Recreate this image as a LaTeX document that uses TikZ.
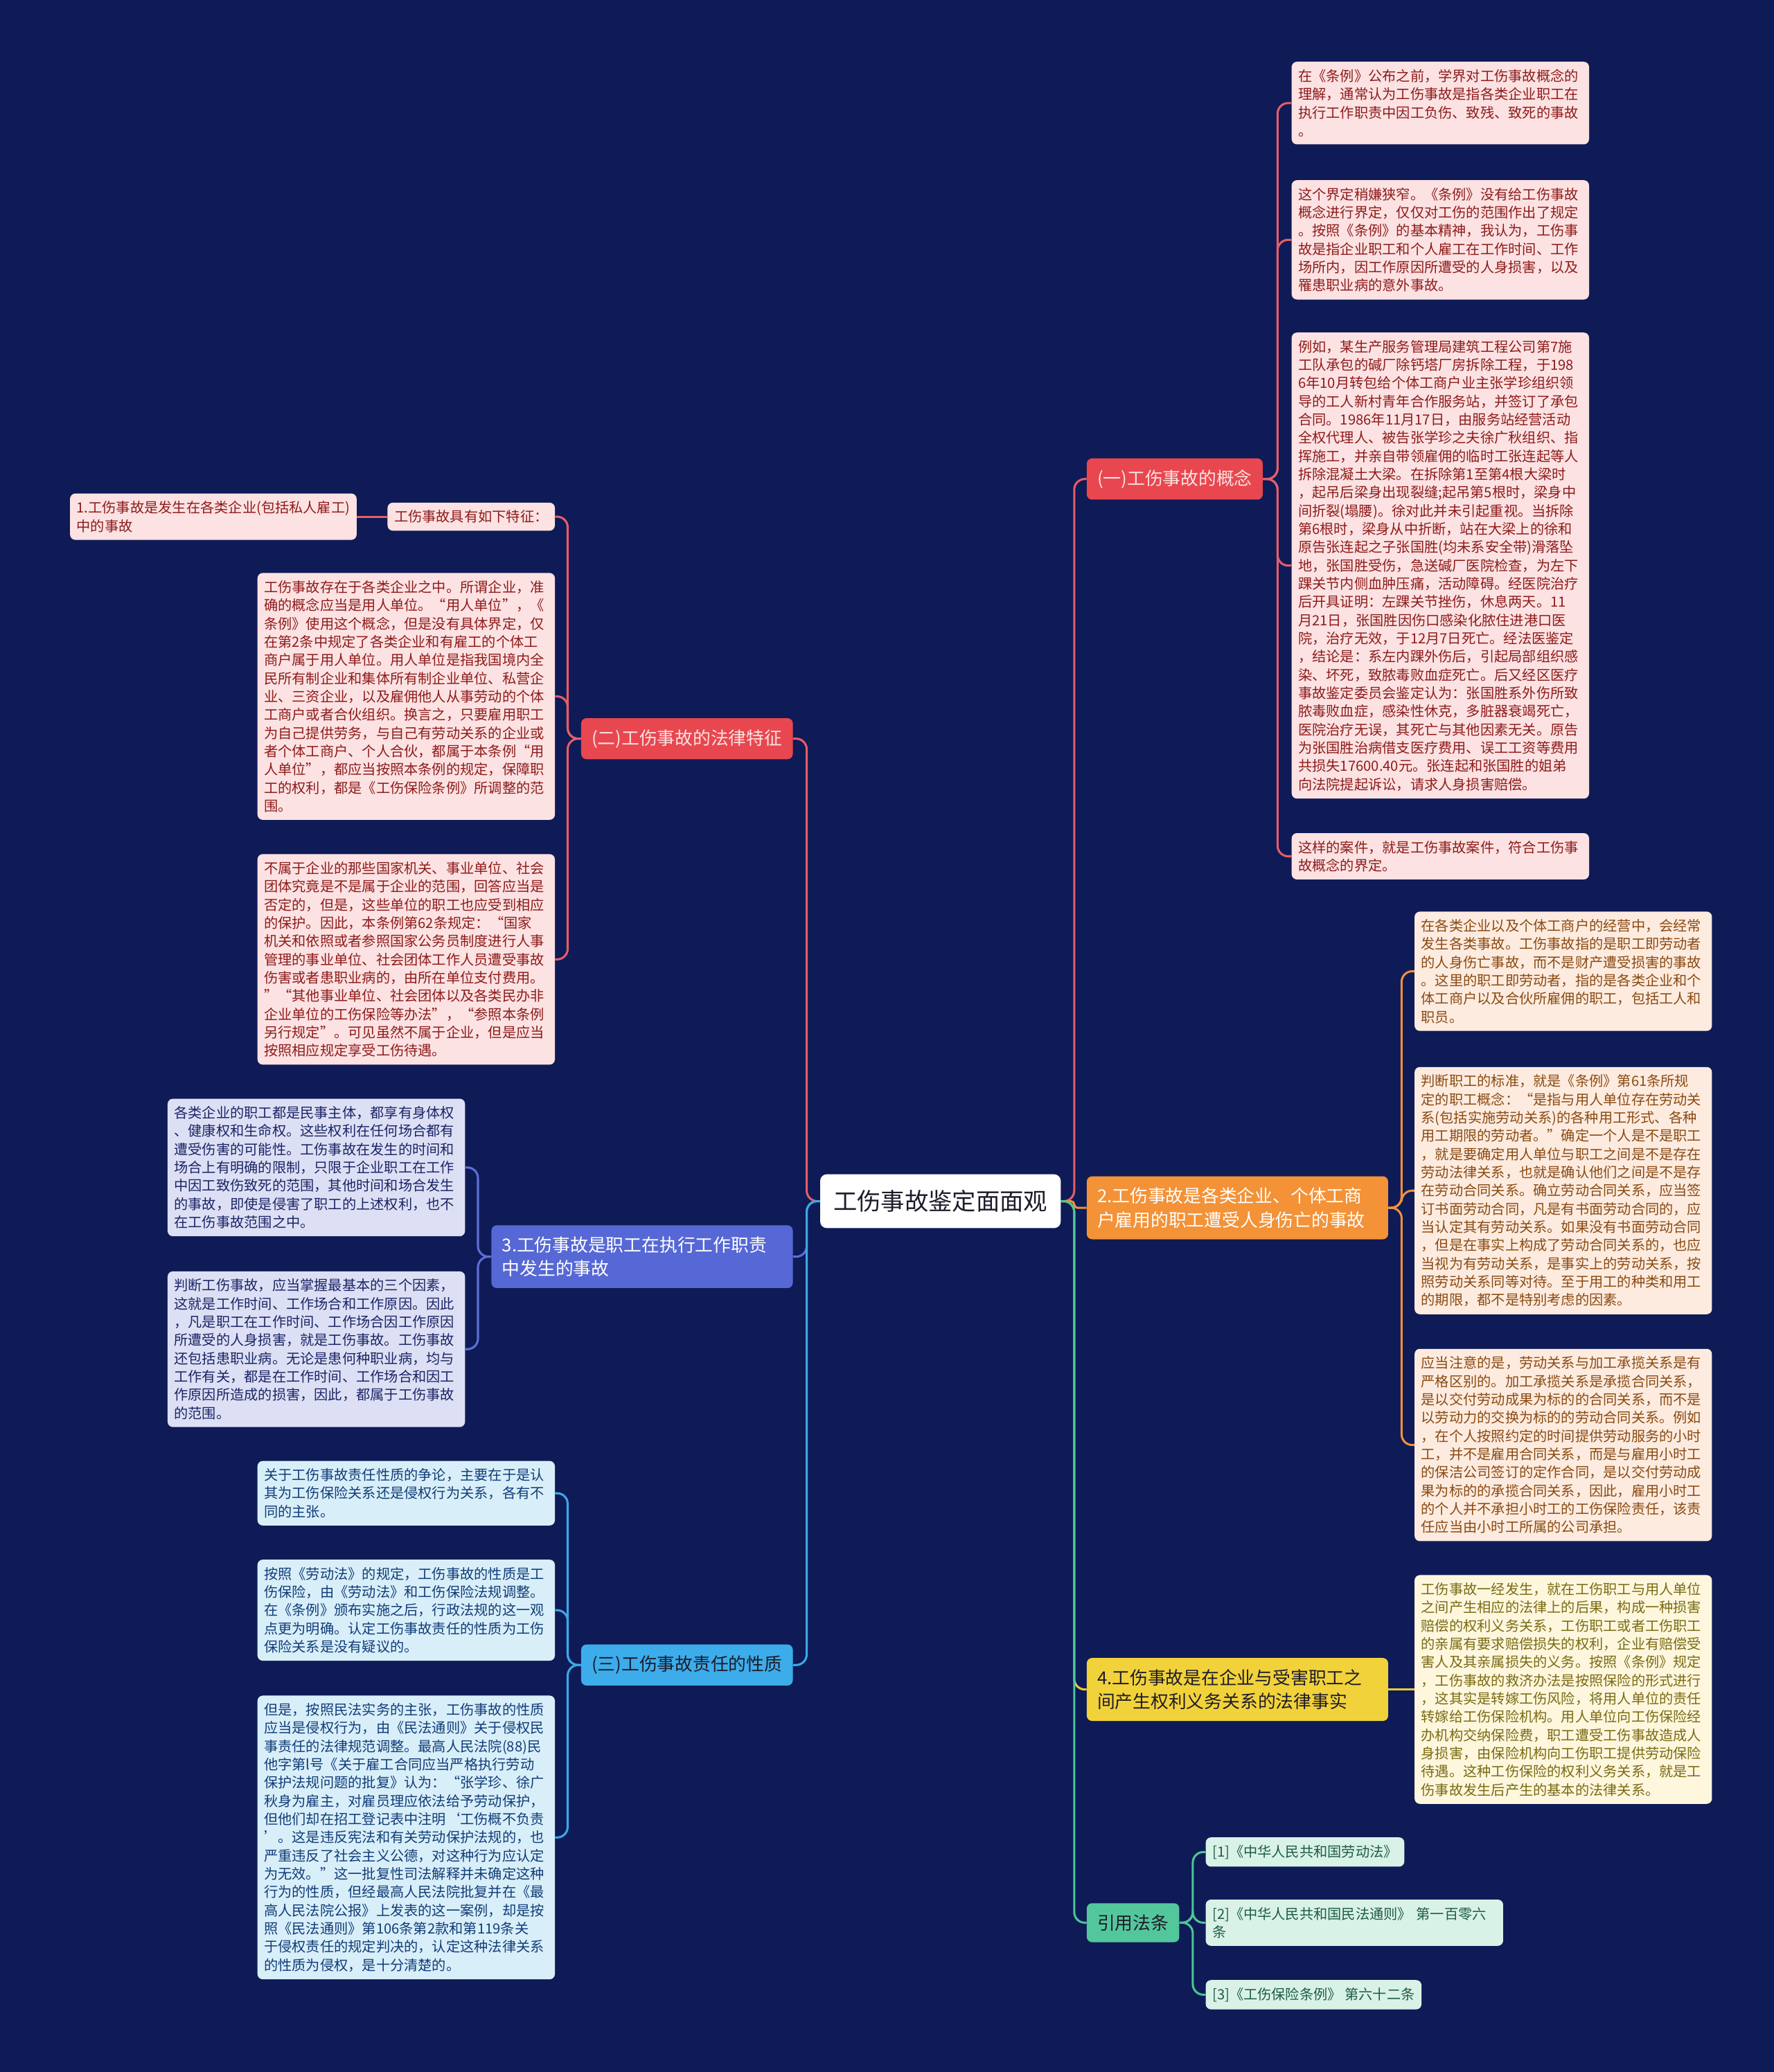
\documentclass[tikz,border=0pt]{standalone}
\usepackage{fontspec}
\setmainfont{Noto Sans CJK SC}

\definecolor{bgnavy}{HTML}{0E1B56}
\definecolor{rootink}{HTML}{1C1C2A}
\definecolor{redtopic}{HTML}{E8474F}
\definecolor{redline}{HTML}{E65D68}
\definecolor{redpale}{HTML}{FCE2E2}
\definecolor{redink}{HTML}{8E1B1B}
\definecolor{orgtopic}{HTML}{F39237}
\definecolor{orgline}{HTML}{F0913A}
\definecolor{orgpale}{HTML}{FDEBDF}
\definecolor{orgink}{HTML}{8A4A12}
\definecolor{yeltopic}{HTML}{F2D23A}
\definecolor{yelline}{HTML}{E8CB3A}
\definecolor{yelpale}{HTML}{FEF7DE}
\definecolor{yelink}{HTML}{7A6A12}
\definecolor{grntopic}{HTML}{53C79B}
\definecolor{grnline}{HTML}{4BC596}
\definecolor{grnpale}{HTML}{D9F2E7}
\definecolor{grnink}{HTML}{1E5C44}
\definecolor{blutopic}{HTML}{5668D5}
\definecolor{bluline}{HTML}{5E6FD7}
\definecolor{blupale}{HTML}{DDE0F4}
\definecolor{bluink}{HTML}{1B2466}
\definecolor{cyntopic}{HTML}{3DACEB}
\definecolor{cynline}{HTML}{3DA8E6}
\definecolor{cynpale}{HTML}{D8EFF9}
\definecolor{cynink}{HTML}{123C78}

\begin{document}
\begin{tikzpicture}[x=1pt, y=-1pt,
  rootbox/.style={fill=white, text=rootink, rounded corners=5pt, inner xsep=10pt, inner ysep=12pt, font=\fontsize{18}{22}\selectfont},
  topic/.style={rounded corners=4pt, inner xsep=8pt, inner ysep=8.5pt, align=left, font=\fontsize{13.5}{18}\selectfont},
  card/.style={rounded corners=4pt, inner xsep=5pt, inner ysep=5.7pt, align=left, font=\fontsize{10.6}{13.8}\selectfont},
  leaf/.style={card, text width=215pt},
  link/.style={line width=1.6pt, rounded corners=8pt}]
	\fill[bgnavy] (0,0) rectangle (1342,1568);
	\useasboundingbox (0,0) rectangle (1342,1568);

	\node[rootbox] (root) at (711.5,909) {工伤事故鉴定面面观};

	\node[topic, fill=redtopic, text=redpale, anchor=west] (k1) at (822,362.5) {(一)工伤事故的概念};
	\node[topic, fill=orgtopic, text=white, anchor=west, text width=212pt] (k2) at (822,914) {2.工伤事故是各类企业、个体工商\\户雇用的职工遭受人身伤亡的事故};
	\node[topic, fill=yeltopic, text=rootink, anchor=west, text width=212pt] (k3) at (822,1278.5) {4.工伤事故是在企业与受害职工之\\间产生权利义务关系的法律事实};
	\node[topic, fill=grntopic, text=rootink, anchor=west] (k4) at (822,1455) {引用法条};
	\node[topic, fill=redtopic, text=redpale, anchor=east] (l1) at (600,559) {(二)工伤事故的法律特征};
	\node[topic, fill=blutopic, text=white, anchor=east, text width=212pt] (l2) at (600,951) {3.工伤事故是职工在执行工作职责\\中发生的事故};
	\node[topic, fill=cyntopic, text=rootink, anchor=east] (l3) at (600,1260) {(三)工伤事故责任的性质};

	\node[leaf, fill=redpale, text=redink, anchor=west] (a1) at (977,78) {在《条例》公布之前，学界对工伤事故概念的\\理解，通常认为工伤事故是指各类企业职工在\\执行工作职责中因工负伤、致残、致死的事故\\。};
	\node[leaf, fill=redpale, text=redink, anchor=west] (a2) at (977,181.5) {这个界定稍嫌狭窄。《条例》没有给工伤事故\\概念进行界定，仅仅对工伤的范围作出了规定\\。按照《条例》的基本精神，我认为，工伤事\\故是指企业职工和个人雇工在工作时间、工作\\场所内，因工作原因所遭受的人身损害，以及\\罹患职业病的意外事故。};
	\node[leaf, fill=redpale, text=redink, anchor=west] (a3) at (977,428) {例如，某生产服务管理局建筑工程公司第7施\\工队承包的碱厂除钙塔厂房拆除工程，于198\\6年10月转包给个体工商户业主张学珍组织领\\导的工人新村青年合作服务站，并签订了承包\\合同。1986年11月17日，由服务站经营活动\\全权代理人、被告张学珍之夫徐广秋组织、指\\挥施工，并亲自带领雇佣的临时工张连起等人\\拆除混凝土大梁。在拆除第1至第4根大梁时\\，起吊后梁身出现裂缝;起吊第5根时，梁身中\\间折裂(塌腰)。徐对此并未引起重视。当拆除\\第6根时，梁身从中折断，站在大梁上的徐和\\原告张连起之子张国胜(均未系安全带)滑落坠\\地，张国胜受伤，急送碱厂医院检查，为左下\\踝关节内侧血肿压痛，活动障碍。经医院治疗\\后开具证明：左踝关节挫伤，休息两天。11\\月21日，张国胜因伤口感染化脓住进港口医\\院，治疗无效，于12月7日死亡。经法医鉴定\\，结论是：系左内踝外伤后，引起局部组织感\\染、坏死，致脓毒败血症死亡。后又经区医疗\\事故鉴定委员会鉴定认为：张国胜系外伤所致\\脓毒败血症，感染性休克，多脏器衰竭死亡，\\医院治疗无误，其死亡与其他因素无关。原告\\为张国胜治病借支医疗费用、误工工资等费用\\共损失17600.40元。张连起和张国胜的姐弟\\向法院提起诉讼，请求人身损害赔偿。};
	\node[leaf, fill=redpale, text=redink, anchor=west] (a4) at (977,648) {这样的案件，就是工伤事故案件，符合工伤事\\故概念的界定。};

	\node[card, fill=redpale, text=redink, anchor=east] (b0) at (420,391) {工伤事故具有如下特征：};
	\node[card, fill=redpale, text=redink, anchor=east] (b0a) at (270,391) {1.工伤事故是发生在各类企业(包括私人雇工)\\中的事故};
	\node[leaf, fill=redpale, text=redink, anchor=east] (b2) at (420,527) {工伤事故存在于各类企业之中。所谓企业，准\\确的概念应当是用人单位。“用人单位”，《\\条例》使用这个概念，但是没有具体界定，仅\\在第2条中规定了各类企业和有雇工的个体工\\商户属于用人单位。用人单位是指我国境内全\\民所有制企业和集体所有制企业单位、私营企\\业、三资企业，以及雇佣他人从事劳动的个体\\工商户或者合伙组织。换言之，只要雇用职工\\为自己提供劳务，与自己有劳动关系的企业或\\者个体工商户、个人合伙，都属于本条例“用\\人单位”，都应当按照本条例的规定，保障职\\工的权利，都是《工伤保险条例》所调整的范\\围。};
	\node[leaf, fill=redpale, text=redink, anchor=east] (b3) at (420,726) {不属于企业的那些国家机关、事业单位、社会\\团体究竟是不是属于企业的范围，回答应当是\\否定的，但是，这些单位的职工也应受到相应\\的保护。因此，本条例第62条规定：“国家\\机关和依照或者参照国家公务员制度进行人事\\管理的事业单位、社会团体工作人员遭受事故\\伤害或者患职业病的，由所在单位支付费用。\\”“其他事业单位、社会团体以及各类民办非\\企业单位的工伤保险等办法”，“参照本条例\\另行规定”。可见虽然不属于企业，但是应当\\按照相应规定享受工伤待遇。};

	\node[leaf, fill=blupale, text=bluink, anchor=east] (c1) at (352,883.5) {各类企业的职工都是民事主体，都享有身体权\\、健康权和生命权。这些权利在任何场合都有\\遭受伤害的可能性。工伤事故在发生的时间和\\场合上有明确的限制，只限于企业职工在工作\\中因工致伤致死的范围，其他时间和场合发生\\的事故，即使是侵害了职工的上述权利，也不\\在工伤事故范围之中。};
	\node[leaf, fill=blupale, text=bluink, anchor=east] (c2) at (352,1021) {判断工伤事故，应当掌握最基本的三个因素，\\这就是工作时间、工作场合和工作原因。因此\\，凡是职工在工作时间、工作场合因工作原因\\所遭受的人身损害，就是工伤事故。工伤事故\\还包括患职业病。无论是患何种职业病，均与\\工作有关，都是在工作时间、工作场合和因工\\作原因所造成的损害，因此，都属于工伤事故\\的范围。};

	\node[leaf, fill=cynpale, text=cynink, anchor=east] (d1) at (420,1130) {关于工伤事故责任性质的争论，主要在于是认\\其为工伤保险关系还是侵权行为关系，各有不\\同的主张。};
	\node[leaf, fill=cynpale, text=cynink, anchor=east] (d2) at (420,1218.5) {按照《劳动法》的规定，工伤事故的性质是工\\伤保险，由《劳动法》和工伤保险法规调整。\\在《条例》颁布实施之后，行政法规的这一观\\点更为明确。认定工伤事故责任的性质为工伤\\保险关系是没有疑议的。};
	\node[leaf, fill=cynpale, text=cynink, anchor=east] (d3) at (420,1390.5) {但是，按照民法实务的主张，工伤事故的性质\\应当是侵权行为，由《民法通则》关于侵权民\\事责任的法律规范调整。最高人民法院(88)民\\他字第l号《关于雇工合同应当严格执行劳动\\保护法规问题的批复》认为：“张学珍、徐广\\秋身为雇主，对雇员理应依法给予劳动保护，\\但他们却在招工登记表中注明‘工伤概不负责\\’。这是违反宪法和有关劳动保护法规的，也\\严重违反了社会主义公德，对这种行为应认定\\为无效。”这一批复性司法解释并未确定这种\\行为的性质，但经最高人民法院批复并在《最\\高人民法院公报》上发表的这一案例，却是按\\照《民法通则》第106条第2款和第119条关\\于侵权责任的规定判决的，认定这种法律关系\\的性质为侵权，是十分清楚的。};

	\node[leaf, fill=orgpale, text=orgink, anchor=west] (e1) at (1070,735) {在各类企业以及个体工商户的经营中，会经常\\发生各类事故。工伤事故指的是职工即劳动者\\的人身伤亡事故，而不是财产遭受损害的事故\\。这里的职工即劳动者，指的是各类企业和个\\体工商户以及合伙所雇佣的职工，包括工人和\\职员。};
	\node[leaf, fill=orgpale, text=orgink, anchor=west] (e2) at (1070,901) {判断职工的标准，就是《条例》第61条所规\\定的职工概念：“是指与用人单位存在劳动关\\系(包括实施劳动关系)的各种用工形式、各种\\用工期限的劳动者。”确定一个人是不是职工\\，就是要确定用人单位与职工之间是不是存在\\劳动法律关系，也就是确认他们之间是不是存\\在劳动合同关系。确立劳动合同关系，应当签\\订书面劳动合同，凡是有书面劳动合同的，应\\当认定其有劳动关系。如果没有书面劳动合同\\，但是在事实上构成了劳动合同关系的，也应\\当视为有劳动关系，是事实上的劳动关系，按\\照劳动关系同等对待。至于用工的种类和用工\\的期限，都不是特别考虑的因素。};
	\node[leaf, fill=orgpale, text=orgink, anchor=west] (e3) at (1070,1093.5) {应当注意的是，劳动关系与加工承揽关系是有\\严格区别的。加工承揽关系是承揽合同关系，\\是以交付劳动成果为标的的合同关系，而不是\\以劳动力的交换为标的的劳动合同关系。例如\\，在个人按照约定的时间提供劳动服务的小时\\工，并不是雇用合同关系，而是与雇用小时工\\的保洁公司签订的定作合同，是以交付劳动成\\果为标的的承揽合同关系，因此，雇用小时工\\的个人并不承担小时工的工伤保险责任，该责\\任应当由小时工所属的公司承担。};

	\node[leaf, fill=yelpale, text=yelink, anchor=west] (f1) at (1070,1278.5) {工伤事故一经发生，就在工伤职工与用人单位\\之间产生相应的法律上的后果，构成一种损害\\赔偿的权利义务关系，工伤职工或者工伤职工\\的亲属有要求赔偿损失的权利，企业有赔偿受\\害人及其亲属损失的义务。按照《条例》规定\\，工伤事故的救济办法是按照保险的形式进行\\，这其实是转嫁工伤风险，将用人单位的责任\\转嫁给工伤保险机构。用人单位向工伤保险经\\办机构交纳保险费，职工遭受工伤事故造成人\\身损害，由保险机构向工伤职工提供劳动保险\\待遇。这种工伤保险的权利义务关系，就是工\\伤事故发生后产生的基本的法律关系。};

	\node[card, fill=grnpale, text=grnink, anchor=west] (g1) at (912,1401.5) {[1]《中华人民共和国劳动法》};
	\node[leaf, fill=grnpale, text=grnink, anchor=west] (g2) at (912,1455) {[2]《中华人民共和国民法通则》 第一百零六\\条};
	\node[card, fill=grnpale, text=grnink, anchor=west] (g3) at (912,1509.5) {[3]《工伤保险条例》 第六十二条};

	\draw[link, redline] (root.east) -- ++(10,0) |- (k1.west);
	\draw[link, orgline, rounded corners=2.5pt] (root.east) -- ++(10,0) |- (k2.west);
	\draw[link, yelline] (root.east) -- ++(10,0) |- (k3.west);
	\draw[link, grnline] (root.east) -- ++(10,0) |- (k4.west);
	\draw[link, redline] (root.west) -- ++(-10,0) |- (l1.east);
	\draw[link, bluline] (root.west) -- ++(-10,0) |- (l2.east);
	\draw[link, cynline] (root.west) -- ++(-10,0) |- (l3.east);

	\draw[link, redline] (k1.east) -- ++(11,0) |- (a1.west);
	\draw[link, redline] (k1.east) -- ++(11,0) |- (a2.west);
	\draw[link, redline] (k1.east) -- ++(11,0) |- (a3.west);
	\draw[link, redline] (k1.east) -- ++(11,0) |- (a4.west);
	\draw[link, redline] (l1.west) -- ++(-10,0) |- (b0.east);
	\draw[link, redline] (l1.west) -- ++(-10,0) |- (b2.east);
	\draw[link, redline] (l1.west) -- ++(-10,0) |- (b3.east);
	\draw[link, redline] (b0.west) -- (b0a.east);
	\draw[link, bluline] (l2.west) -- ++(-10,0) |- (c1.east);
	\draw[link, bluline] (l2.west) -- ++(-10,0) |- (c2.east);
	\draw[link, cynline] (l3.west) -- ++(-10,0) |- (d1.east);
	\draw[link, cynline] (l3.west) -- ++(-10,0) |- (d2.east);
	\draw[link, cynline] (l3.west) -- ++(-10,0) |- (d3.east);
	\draw[link, orgline] (k2.east) -- ++(10,0) |- (e1.west);
	\draw[link, orgline] (k2.east) -- ++(10,0) |- (e2.west);
	\draw[link, orgline] (k2.east) -- ++(10,0) |- (e3.west);
	\draw[link, yelline] (k3.east) -- (f1.west);
	\draw[link, grnline] (k4.east) -- ++(10,0) |- (g1.west);
	\draw[link, grnline] (k4.east) -- ++(10,0) |- (g2.west);
	\draw[link, grnline] (k4.east) -- ++(10,0) |- (g3.west);
\end{tikzpicture}
\end{document}
